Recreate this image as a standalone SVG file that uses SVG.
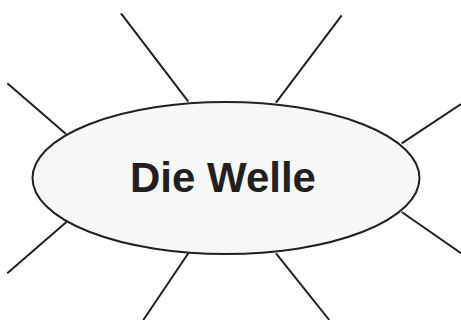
<svg xmlns="http://www.w3.org/2000/svg" width="461" height="320" viewBox="0 0 461 320">
<style>
.ln{stroke:#231f20;stroke-width:2;fill:none}
.el{fill:#f7f7f7;stroke:#231f20;stroke-width:2}
.t{font-family:"Liberation Sans",Arial,sans-serif;font-weight:bold;font-size:42px;fill:#231f20}
</style>
<rect width="461" height="320" fill="#fff"/>
<g id="connectors">
<line class="ln" x1="121" y1="13.3" x2="188.3" y2="101.7"/>
<line class="ln" x1="341.7" y1="15.3" x2="276" y2="102.7"/>
<line class="ln" x1="7.3" y1="83.3" x2="66" y2="134"/>
<line class="ln" x1="461" y1="104" x2="401.7" y2="143.3"/>
<line class="ln" x1="7.3" y1="273.3" x2="66.7" y2="221.7"/>
<line class="ln" x1="401.7" y1="212" x2="461" y2="253.3"/>
<line class="ln" x1="188.3" y1="253.3" x2="143.3" y2="320"/>
<line class="ln" x1="276" y1="253.3" x2="329.3" y2="320"/>
</g>
<g id="center">
<ellipse class="el" cx="226" cy="178" rx="193.5" ry="76"/>
<text class="t" x="223" y="192.3" text-anchor="middle">Die Welle</text>
</g>
</svg>
